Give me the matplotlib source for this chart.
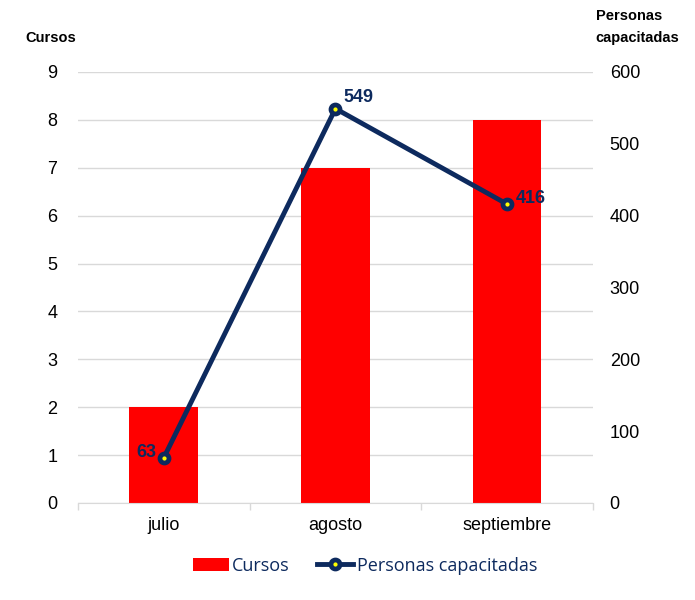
import matplotlib.pyplot as plt
import numpy as np

# data
meses = ["julio", "agosto", "septiembre"]
cursos = [2, 7, 8]
personas = [63, 549, 416]

rojo = "#FF0000"
azul = "#0D2A5E"
gris = "#D9D9D9"

plt.rcParams["font.family"] = ["Liberation Sans", "DejaVu Sans"]

fig = plt.figure(figsize=(6.95, 6.0), dpi=100)
ax = fig.add_axes([0.1122, 0.1617, 0.741, 0.7183])
ax2 = ax.twinx()

x = np.arange(len(meses))
ax.bar(x, cursos, width=0.4, color=rojo, zorder=2, label="Cursos")
ax.set_ylim(0, 9)
ax.set_yticks(range(0, 10))
ax.set_xlim(-0.5, len(meses) - 0.5)
ax.set_xticks(x)
ax.set_xticklabels(meses)
ax.set_xticks(np.arange(-0.5, len(meses)), minor=True)
ax.tick_params(axis="x", which="major", length=0, pad=10, labelsize=13)
ax.tick_params(axis="x", which="minor", length=5, color=gris, width=1)
ax.tick_params(axis="y", length=0, pad=15, labelsize=13)
ax.grid(axis="y", color=gris, linewidth=1, zorder=0)
ax.set_axisbelow(True)
for s in ["left", "right", "top"]:
    ax.spines[s].set_visible(False)
ax.spines["bottom"].set_color(gris)

ax2.plot(x, personas, color=azul, linewidth=3.5, marker="o", markersize=6.5,
         markerfacecolor="#FFFF00", markeredgecolor=azul, markeredgewidth=3.4,
         zorder=5, label="Personas capacitadas")
ax2.set_ylim(0, 600)
ax2.set_yticks(range(0, 601, 100))
ax2.tick_params(axis="y", length=0, pad=12, labelsize=13)
for s in ["left", "right", "top", "bottom"]:
    ax2.spines[s].set_visible(False)

# data labels
offsets = [(-5, 4, "right"), (6, 8, "left"), (6, 4, "left")]
for xi, v, (dx, dy, ha) in zip(x, personas, offsets):
    ax2.annotate(str(v), (xi, v), xytext=(dx, dy), textcoords="offset points",
                 ha=ha, va="center", fontsize=13, fontweight="bold", color=azul)

# axis titles
fig.text(0.036, 0.937, "Cursos", fontsize=10.5, fontweight="bold", ha="left", va="center")
fig.text(0.857, 0.973, "Personas", fontsize=10.5, fontweight="bold", ha="left", va="center")
fig.text(0.857, 0.937, "capacitadas", fontsize=10.5, fontweight="bold", ha="left", va="center")

h1, l1 = ax.get_legend_handles_labels()
h2, l2 = ax2.get_legend_handles_labels()
leg = fig.legend(h1 + h2, l1 + l2, loc="center", bbox_to_anchor=(0.525, 0.057),
                 ncol=2, frameon=False, handlelength=2.0, columnspacing=1.5,
                 handletextpad=0.2, prop={"family": "Open Sans", "size": 13})
for t in leg.get_texts():
    t.set_color(azul)

fig.savefig("out.png", dpi=100)
